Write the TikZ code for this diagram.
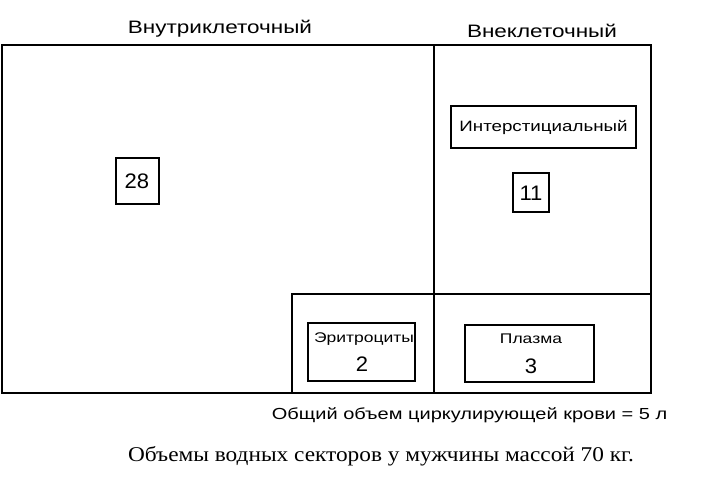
\documentclass[tikz,border=0pt]{standalone}
\usepackage{fontspec}
\setmainfont[FakeStretch=1.25]{Liberation Sans}
\newfontfamily\digitfont[FakeStretch=1.05]{Liberation Sans}
\newfontfamily\capfont[FakeStretch=1.11]{Liberation Serif}
\begin{document}
\begin{tikzpicture}[x=1pt,y=-1pt,
  frame/.style={line width=1.8pt},
  boxs/.style={draw,line width=2pt,inner sep=0pt},
  txt/.style={inner sep=0pt,anchor=base,font=\fontsize{#1}{#1}\selectfont},
  dig/.style={inner sep=0pt,anchor=base,font=\digitfont\fontsize{21}{21}\selectfont}]
\useasboundingbox (0,0) rectangle (704,480);
\draw[frame] (2,45) rectangle (651,393);
\draw[frame] (434,45) -- (434,393);
\draw[frame] (292,393) -- (292,294) -- (651,294);
\node[txt=18] (intra) at (220,33) {Внутриклеточный};
\node[txt=18] (extra) at (542,37) {Внеклеточный};
\node[boxs,minimum width=43pt,minimum height=46pt] (n28) at (137,181) {};
\node[dig] (n28l) at (137,188) {28};
\node[boxs,minimum width=185pt,minimum height=42pt,font=\fontsize{15}{15}\selectfont] (inter) at (543.5,127) {Интерстициальный};
\node[boxs,minimum width=36pt,minimum height=39pt] (n11) at (531,192.5) {};
\node[dig] (n11l) at (531,200) {11};
\node[boxs,minimum width=107pt,minimum height=58pt] (ery) at (361.5,352) {};
\node[txt=14] (eryl) at (364,342.5) {Эритроциты};
\node[dig] (eryn) at (362,371) {2};
\node[boxs,minimum width=129pt,minimum height=57pt] (plasma) at (529.5,353.5) {};
\node[txt=14] (plasmal) at (531,343) {Плазма};
\node[dig] (plasman) at (531,373) {3};
\node[txt=16] (total) at (469.5,419) {Общий объем циркулирующей крови = 5 л};
\node[inner sep=0pt,anchor=base,font=\capfont\fontsize{21}{21}\selectfont] (cap) at (381,461) {Объемы водных секторов у мужчины массой 70 кг.};
\end{tikzpicture}
\end{document}
